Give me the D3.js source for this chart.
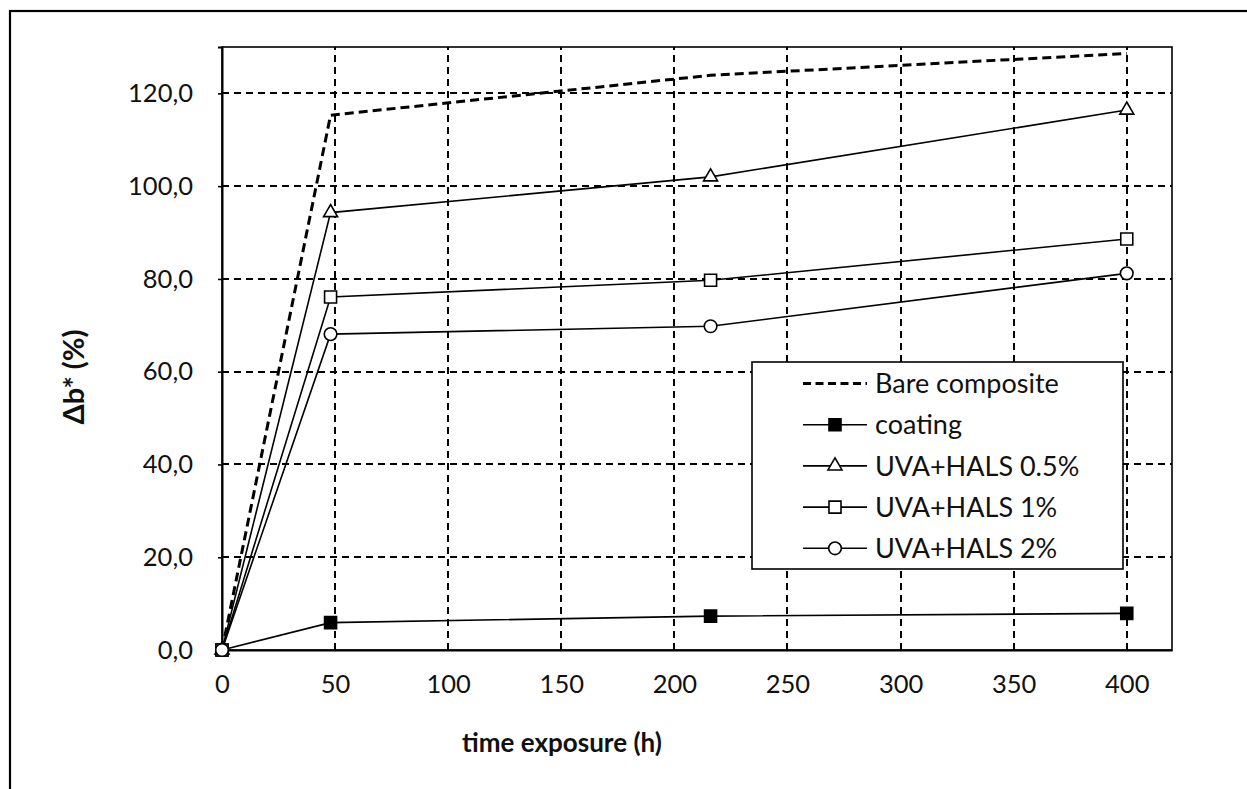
<!DOCTYPE html>
<html><head><meta charset="utf-8">
<script src="https://cdn.jsdelivr.net/npm/d3@7"></script>
<style>html,body{margin:0;padding:0;background:#fff;}svg{display:block;font-family:Lato,"Open Sans",sans-serif;}</style>
</head><body>
<svg id="c" width="1247" height="789"></svg>
<script>
const xTimes = [0, 48, 216, 400];
const bareComposite = [0, 115.3, 123.9, 128.6];
const coating = [0, 5.9, 7.3, 7.9];
const uvaHals05 = [0, 94.3, 102.0, 116.4];
const uvaHals1 = [0, 76.1, 79.7, 88.6];
const uvaHals2 = [0, 68.1, 69.8, 81.2];
const seriesNames = ["Bare composite", "coating", "UVA+HALS 0.5%", "UVA+HALS 1%", "UVA+HALS 2%"];
const xTicks = [0, 50, 100, 150, 200, 250, 300, 350, 400];
const yTicks = [0, 20, 40, 60, 80, 100, 120];
const xTitle = "time exposure (h)";
const yTitle = "Δb* (%)";

const series = [
  {name: seriesNames[0], values: bareComposite, marker: null, dashed: true},
  {name: seriesNames[1], values: coating, marker: "square", fill: "#000"},
  {name: seriesNames[2], values: uvaHals05, marker: "triangle", fill: "#fff"},
  {name: seriesNames[3], values: uvaHals1, marker: "square", fill: "#fff"},
  {name: seriesNames[4], values: uvaHals2, marker: "circle", fill: "#fff"}
];

const svg = d3.select("#c");
const L = 222, R = 1172, T = 47, B = 650;
const x = d3.scaleLinear().domain([0, 420]).range([L, R]);
const y = d3.scaleLinear().domain([0, 130]).range([B, T]);

// outer border
svg.append("rect").attr("x", 10).attr("y", 11).attr("width", 1260).attr("height", 820)
  .attr("fill", "none").attr("stroke", "#000").attr("stroke-width", 2.2);

// grid
const grid = svg.append("g").attr("stroke", "#000").attr("stroke-width", 2).attr("stroke-dasharray", "7,5");
grid.selectAll("line.h").data(yTicks.filter(d => d > 0)).join("line")
  .attr("x1", L).attr("x2", R).attr("y1", d => Math.round(y(d))).attr("y2", d => Math.round(y(d)));
grid.selectAll("line.v").data(xTicks.filter(d => d > 0)).join("line")
  .attr("y1", B).attr("y2", T).attr("x1", d => Math.round(x(d))).attr("x2", d => Math.round(x(d)));

// plot frame
svg.append("rect").attr("x", L).attr("y", T).attr("width", R - L).attr("height", B - T)
  .attr("fill", "none").attr("stroke", "#000").attr("stroke-width", 1.6);

// axes
const fmtY = d => d.toFixed(1).replace(".", ",");
const yAxis = svg.append("g").attr("transform", `translate(${L},0)`)
  .call(d3.axisLeft(y).tickValues(yTicks).tickFormat(fmtY).tickSize(4).tickPadding(25));
const xAxis = svg.append("g").attr("transform", `translate(0,${B})`)
  .call(d3.axisBottom(x).tickValues(xTicks).tickFormat(d3.format("d")).tickSize(0).tickPadding(30));
[yAxis, xAxis].forEach(a => {
  a.select(".domain").attr("stroke", "#000").attr("stroke-width", 2);
  a.selectAll(".tick line").attr("stroke", "#000").attr("stroke-width", 1.6);
  a.selectAll("text").attr("font-size", 25.5).attr("fill", "#111").attr("font-family", "Lato, sans-serif");
});
xAxis.selectAll("text").attr("dy", "0.5em");

// titles
svg.append("text").attr("x", 562).attr("y", 752).attr("text-anchor", "middle")
  .attr("font-size", 26).attr("font-weight", "bold").attr("fill", "#111").text(xTitle);
svg.append("text").attr("transform", "translate(84,377) rotate(-90)").attr("text-anchor", "middle")
  .attr("font-size", 29).attr("font-weight", "bold").attr("fill", "#111").text(yTitle);

// series
const line = d3.line().x((d, i) => x(xTimes[i])).y(d => y(d));
const sym = {
  square: d3.symbol().type(d3.symbolSquare).size(144),
  triangle: d3.symbol().type(d3.symbolTriangle).size(85),
  circle: d3.symbol().type(d3.symbolCircle).size(125)
};
series.forEach(s => {
  svg.append("path").datum(s.values).attr("d", line).attr("fill", "none")
    .attr("stroke", "#000").attr("stroke-width", s.dashed ? 3 : 1.6)
    .attr("stroke-dasharray", s.dashed ? "9,5" : null);
});
series.forEach(s => {
  if (!s.marker) return;
  svg.append("g").selectAll("path").data(s.values).join("path")
    .attr("transform", (d, i) => `translate(${x(xTimes[i])},${y(d)})`)
    .attr("d", sym[s.marker]()).attr("fill", s.fill).attr("stroke", "#000").attr("stroke-width", 1.6);
});

// legend
const lg = svg.append("g");
lg.append("rect").attr("x", 752).attr("y", 362).attr("width", 371).attr("height", 207)
  .attr("fill", "#fff").attr("stroke", "#000").attr("stroke-width", 1.6);
series.forEach((s, i) => {
  const yy = 383.5 + i * 41.2;
  lg.append("line").attr("x1", 803).attr("x2", 867).attr("y1", yy).attr("y2", yy)
    .attr("stroke", "#000").attr("stroke-width", s.dashed ? 3 : 1.6)
    .attr("stroke-dasharray", s.dashed ? "8,4.5" : null);
  if (s.marker) {
    lg.append("path").attr("transform", `translate(835,${yy})`).attr("d", sym[s.marker]())
      .attr("fill", s.fill).attr("stroke", "#000").attr("stroke-width", 1.6);
  }
  lg.append("text").attr("x", 875).attr("y", yy).attr("dy", "0.36em")
    .attr("font-size", 27).attr("fill", "#111").text(s.name);
});
</script>
</body></html>
